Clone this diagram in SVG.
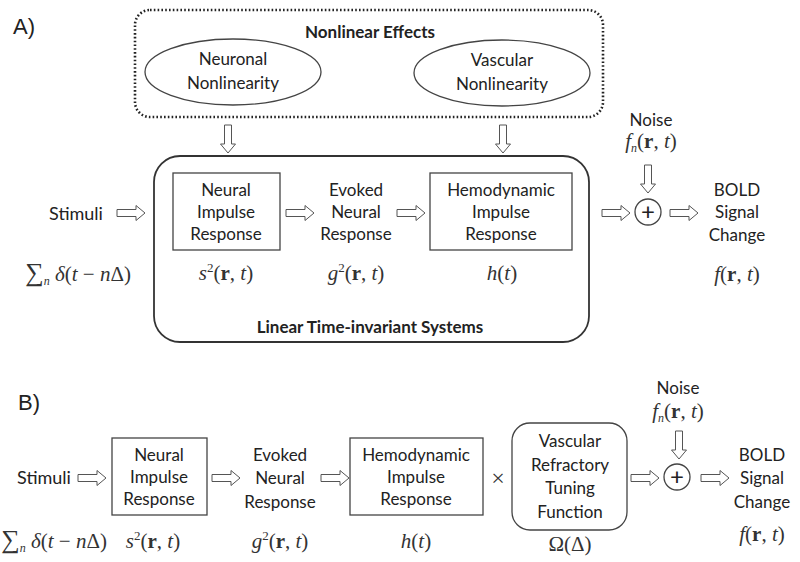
<svg xmlns="http://www.w3.org/2000/svg" xmlns:xlink="http://www.w3.org/1999/xlink" width="800" height="562" viewBox="0 0 800 562">
<style>
.t{font-family:Lato,"Open Sans",sans-serif;font-size:17px;fill:#222;text-anchor:middle}
.b{font-weight:bold}
.lab{font-family:"Liberation Sans",Arial,sans-serif;font-size:22px;fill:#222}
.m{font-family:"Liberation Serif","Times New Roman",serif;font-size:21px;fill:#333;text-anchor:middle}
.i{font-style:italic}
.box{fill:none;stroke:#444;stroke-width:1.3}
.arr{fill:#fff;stroke:#555;stroke-width:1}
.plus{font-size:24px}
.st{font-size:18px}
</style>
<defs>
<path id="ar" class="arr" d="M0,-3.5 H19 V-7.5 L28,0 L19,7.5 V3.5 H0 Z"/>
</defs>
<rect width="800" height="562" fill="#fff"/>

<!-- Panel A -->
<text class="lab" x="13" y="34">A)</text>
<g id="nonlinear">
<rect x="135" y="10" width="468" height="107" rx="15" fill="none" stroke="#222" stroke-width="2.6" stroke-dasharray="1.6 2.2"/>
<text class="t b" x="370" y="38">Nonlinear Effects</text>
</g>
<g id="neuronal">
<ellipse cx="233" cy="72" rx="88" ry="33" class="box"/>
<text class="t" x="233" y="65">Neuronal</text>
<text class="t" x="233" y="89">Nonlinearity</text>
</g>
<g id="vascular">
<ellipse cx="502" cy="73" rx="88" ry="33" class="box"/>
<text class="t" x="502" y="66">Vascular</text>
<text class="t" x="502" y="90">Nonlinearity</text>
</g>
<g id="lti">
<rect x="154" y="156" width="435" height="186" rx="26" fill="none" stroke="#333" stroke-width="1.8"/>
<text class="t b" x="370" y="333">Linear Time-invariant Systems</text>
</g>
<g id="stimA">
<text class="t st" x="76" y="220">Stimuli</text>
<text class="m" x="78" y="281"><tspan font-size="26">∑</tspan><tspan class="i" font-size="12" dy="4">n</tspan><tspan dy="-4" class="i"> δ</tspan>(<tspan class="i">t</tspan> − <tspan class="i">n</tspan>Δ)</text>
</g>
<g id="neuralA">
<rect x="173" y="173" width="107" height="77" class="box"/>
<text class="t" x="226" y="196">Neural</text>
<text class="t" x="226" y="218">Impulse</text>
<text class="t" x="226" y="240">Response</text>
<text class="m" x="226" y="280"><tspan class="i">s</tspan><tspan font-size="13" dy="-8">2</tspan><tspan dy="8">(</tspan><tspan class="b">r</tspan>, <tspan class="i">t</tspan>)</text>
</g>
<g id="evokedA">
<text class="t" x="356" y="196">Evoked</text>
<text class="t" x="356" y="218">Neural</text>
<text class="t" x="356" y="240">Response</text>
<text class="m" x="356" y="280"><tspan class="i">g</tspan><tspan font-size="13" dy="-8">2</tspan><tspan dy="8">(</tspan><tspan class="b">r</tspan>, <tspan class="i">t</tspan>)</text>
</g>
<g id="hemoA">
<rect x="430" y="173" width="142" height="77" class="box"/>
<text class="t" x="501" y="196">Hemodynamic</text>
<text class="t" x="501" y="218">Impulse</text>
<text class="t" x="501" y="240">Response</text>
<text class="m" x="502" y="280"><tspan class="i">h</tspan>(<tspan class="i">t</tspan>)</text>
</g>
<g id="noiseA">
<text class="t" x="651" y="126">Noise</text>
<text class="m" x="651" y="148"><tspan class="i">f</tspan><tspan class="i" font-size="12" dy="4">n</tspan><tspan dy="-4">(</tspan><tspan class="b">r</tspan>, <tspan class="i">t</tspan>)</text>
</g>
<g id="sumA">
<circle cx="648" cy="212" r="13" class="box"/>
<text class="t plus" x="648" y="220">+</text>
</g>
<g id="boldA">
<text class="t" x="737" y="196">BOLD</text>
<text class="t" x="737" y="218">Signal</text>
<text class="t" x="737" y="241">Change</text>
<text class="m" x="737" y="281"><tspan class="i">f</tspan>(<tspan class="b">r</tspan>, <tspan class="i">t</tspan>)</text>
</g>

<!-- Panel B -->
<text class="lab" x="18" y="410">B)</text>
<g id="stimB">
<text class="t st" x="44" y="484">Stimuli</text>
<text class="m" x="54" y="548"><tspan font-size="26">∑</tspan><tspan class="i" font-size="12" dy="4">n</tspan><tspan dy="-4" class="i"> δ</tspan>(<tspan class="i">t</tspan> − <tspan class="i">n</tspan>Δ)</text>
</g>
<g id="neuralB">
<rect x="112" y="438" width="95" height="77" class="box"/>
<text class="t" x="159" y="461">Neural</text>
<text class="t" x="159" y="483">Impulse</text>
<text class="t" x="159" y="505">Response</text>
<text class="m" x="153" y="548"><tspan class="i">s</tspan><tspan font-size="13" dy="-8">2</tspan><tspan dy="8">(</tspan><tspan class="b">r</tspan>, <tspan class="i">t</tspan>)</text>
</g>
<g id="evokedB">
<text class="t" x="280" y="461">Evoked</text>
<text class="t" x="280" y="484">Neural</text>
<text class="t" x="280" y="508">Response</text>
<text class="m" x="280" y="548"><tspan class="i">g</tspan><tspan font-size="13" dy="-8">2</tspan><tspan dy="8">(</tspan><tspan class="b">r</tspan>, <tspan class="i">t</tspan>)</text>
</g>
<g id="hemoB">
<rect x="350" y="438" width="133" height="77" class="box"/>
<text class="t" x="416" y="461">Hemodynamic</text>
<text class="t" x="416" y="483">Impulse</text>
<text class="t" x="416" y="505">Response</text>
<text class="m" x="416" y="548"><tspan class="i">h</tspan>(<tspan class="i">t</tspan>)</text>
</g>
<text class="m plus" x="498" y="486" fill="#666">×</text>
<g id="vrtf">
<rect x="512" y="423" width="115" height="107" rx="18" class="box"/>
<text class="t" x="570" y="447">Vascular</text>
<text class="t" x="570" y="471">Refractory</text>
<text class="t" x="570" y="494">Tuning</text>
<text class="t" x="570" y="518">Function</text>
<text class="m" x="570" y="551">Ω(Δ)</text>
</g>
<g id="noiseB">
<text class="t" x="678" y="394">Noise</text>
<text class="m" x="678" y="418"><tspan class="i">f</tspan><tspan class="i" font-size="12" dy="4">n</tspan><tspan dy="-4">(</tspan><tspan class="b">r</tspan>, <tspan class="i">t</tspan>)</text>
</g>
<g id="sumB">
<circle cx="677" cy="477" r="13" class="box"/>
<text class="t plus" x="677" y="485">+</text>
</g>
<g id="boldB">
<text class="t" x="762" y="461">BOLD</text>
<text class="t" x="762" y="484">Signal</text>
<text class="t" x="762" y="508">Change</text>
<text class="m" x="762" y="541"><tspan class="i">f</tspan>(<tspan class="b">r</tspan>, <tspan class="i">t</tspan>)</text>
</g>

<g id="connectors">
<use xlink:href="#ar" transform="translate(228,125) rotate(90)"/>
<use xlink:href="#ar" transform="translate(503,125) rotate(90)"/>
<use xlink:href="#ar" transform="translate(648,165) rotate(90)"/>
<use xlink:href="#ar" transform="translate(117,213)"/>
<use xlink:href="#ar" transform="translate(286,213)"/>
<use xlink:href="#ar" transform="translate(397,213)"/>
<use xlink:href="#ar" transform="translate(602,213)"/>
<use xlink:href="#ar" transform="translate(670,213)"/>
<use xlink:href="#ar" transform="translate(679,431) rotate(90)"/>
<use xlink:href="#ar" transform="translate(78,478)"/>
<use xlink:href="#ar" transform="translate(212,478)"/>
<use xlink:href="#ar" transform="translate(321,478)"/>
<use xlink:href="#ar" transform="translate(631,478)"/>
<use xlink:href="#ar" transform="translate(701,478)"/>
</g>
</svg>
